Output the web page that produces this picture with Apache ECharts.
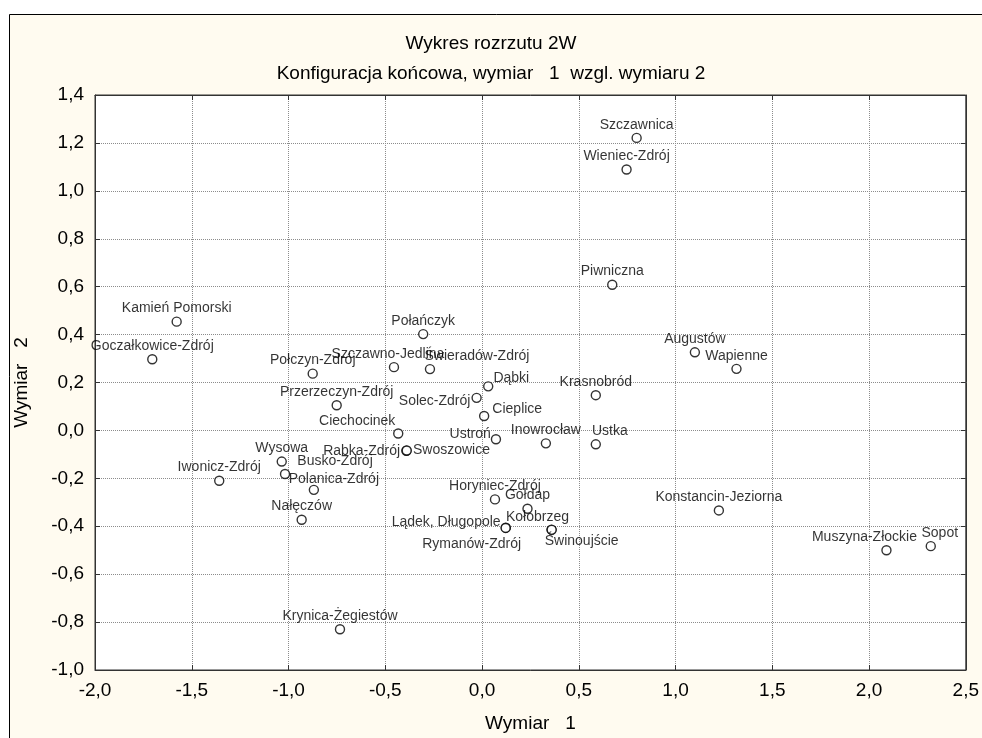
<!DOCTYPE html>
<html>
<head>
<meta charset="utf-8">
<title>Wykres rozrzutu 2W</title>
<script src="https://cdn.jsdelivr.net/npm/echarts@6/dist/echarts.min.js"></script>
<style>
  html, body { margin: 0; padding: 0; background: #fff; }
  #chart { width: 982px; height: 738px; }
</style>
</head>
<body>
<div id="chart"></div>
<script>
// uzdrowiska - konfiguracja koncowa MDS
var names = [
    'Szczawnica', 'Wieniec-Zdrój', 'Piwniczna', 'Kamień Pomorski', 'Goczałkowice-Zdrój',
    'Połczyn-Zdrój', 'Szczawno-Jedlina', 'Połańczyk', 'Świeradów-Zdrój', 'Przerzeczyn-Zdrój',
    'Ciechocinek', 'Dąbki', 'Solec-Zdrój', 'Cieplice', 'Ustroń',
    'Krasnobród', 'Inowrocław', 'Ustka', 'Rabka-Zdrój', 'Swoszowice',
    'Wysowa', 'Busko-Zdrój', 'Iwonicz-Zdrój', 'Polanica-Zdrój', 'Nałęczów',
    'Horyniec-Zdrój', 'Gołdap', 'Lądek, Długopole', 'Rymanów-Zdrój', 'Kołobrzeg',
    'Świnoujście', 'Augustów', 'Wapienne', 'Konstancin-Jeziorna', 'Muszyna-Złockie',
    'Sopot', 'Krynica-Żegiestów'
];
var wymiar1 = [
    0.799, 0.747, 0.673, -1.578, -1.704,
    -0.875, -0.455, -0.304, -0.269, -0.751,
    -0.433, 0.032, -0.028, 0.011, 0.072,
    0.588, 0.330, 0.588, -0.391, -0.389,
    -1.035, -1.018, -1.358, -0.869, -0.932,
    0.067, 0.235, 0.123, 0.122, 0.359,
    0.360, 1.100, 1.315, 1.224, 2.090,
    2.319, -0.734
];
var wymiar2 = [
    1.221, 1.089, 0.608, 0.454, 0.297,
    0.237, 0.264, 0.402, 0.256, 0.105,
    -0.013, 0.184, 0.136, 0.060, -0.037,
    0.147, -0.054, -0.058, -0.085, -0.084,
    -0.130, -0.182, -0.210, -0.248, -0.373,
    -0.288, -0.327, -0.406, -0.407, -0.414,
    -0.415, 0.326, 0.257, -0.334, -0.500,
    -0.483, -0.830
];

// gdzie stoi etykieta (domyslnie nad punktem)
var labelPlace = {
    'Szczawno-Jedlina': ['top', [-6, 0]],
    'Ciechocinek': ['top', [-41, 1]],
    'Świeradów-Zdrój': ['top', [47, 0]],
    'Dąbki': ['right', [-1, -8]],
    'Solec-Zdrój': ['left', [0, 3]],
    'Cieplice': ['right', [2, -7]],
    'Ustroń': ['left', [1, -5]],
    'Ustka': ['top', [14, 0]],
    'Rabka-Zdrój': ['left', [0, 0]],
    'Swoszowice': ['right', [0, 0]],
    'Busko-Zdrój': ['top', [50, 0]],
    'Polanica-Zdrój': ['top', [20, 3]],
    'Lądek, Długopole': ['left', [1, -6]],
    'Rymanów-Zdrój': ['bottom', [-34, 3]],
    'Kołobrzeg': ['top', [-14, 1]],
    'Świnoujście': ['bottom', [30, -2]],
    'Muszyna-Złockie': ['top', [-22, 0]],
    'Sopot': ['top', [9, 0]]
};

var points = [];
for (var i = 0; i < names.length; i++) {
    var p = labelPlace[names[i]] || ['top', [0, 0]];
    points.push({
        name: names[i],
        value: [wymiar1[i], wymiar2[i]],
        label: { position: p[0], offset: p[1] }
    });
}

var cream = '#fffbf0';
var tickFont = 'Liberation Sans';
var fmt = function(v) {
    return v.toFixed(1).replace('.', ',');
};
var frameLine = { onZero: false, lineStyle: { color: '#333' } };
var innerTick = { inside: true, length: 5, lineStyle: { color: '#333' } };

var myChart = echarts.init(document.getElementById('chart'));

var option = {
    backgroundColor: '#ffffff',
    animation: false,
    graphic: [{
        type: 'rect',
        z: -100,
        shape: { x: 9.5, y: 14.5, width: 1000, height: 800 },
        style: { fill: cream, stroke: '#000', lineWidth: 1 }
    }],
    title: [{
        text: 'Wykres rozrzutu 2W',
        left: 'center',
        top: 29,
        textStyle: { fontFamily: tickFont, fontSize: 19, fontWeight: 'normal', color: '#000' }
    }, {
        text: 'Konfiguracja końcowa, wymiar   1  wzgl. wymiaru 2',
        left: 'center',
        top: 59,
        textStyle: { fontFamily: tickFont, fontSize: 19, fontWeight: 'normal', color: '#000' }
    }],
    grid: {
        left: 95,
        right: 16,
        top: 95,
        bottom: 64,
        show: true,
        backgroundColor: '#ffffff',
        borderColor: '#333',
        borderWidth: 1
    },
    xAxis: [{
        type: 'value',
        min: -2,
        max: 2.5,
        interval: 0.5,
        name: 'Wymiar   1',
        nameLocation: 'middle',
        nameGap: 44,
        nameTextStyle: { fontFamily: tickFont, fontSize: 19, color: '#000' },
        axisLine: frameLine,
        axisTick: innerTick,
        axisLabel: { formatter: fmt, fontFamily: tickFont, fontSize: 19, color: '#000', margin: 11 },
        splitLine: { show: true, lineStyle: { type: 'dotted', color: '#8c8c8c' } }
    }, {
        type: 'value',
        position: 'top',
        min: -2,
        max: 2.5,
        interval: 0.5,
        axisLine: frameLine,
        axisTick: innerTick,
        axisLabel: { show: false },
        splitLine: { show: false }
    }],
    yAxis: [{
        type: 'value',
        min: -1,
        max: 1.4,
        interval: 0.2,
        name: 'Wymiar   2',
        nameLocation: 'middle',
        nameGap: 64,
        nameTextStyle: { fontFamily: tickFont, fontSize: 19, color: '#000' },
        axisLine: frameLine,
        axisTick: innerTick,
        axisLabel: { formatter: fmt, fontFamily: tickFont, fontSize: 19, color: '#000', margin: 11 },
        splitLine: { show: true, lineStyle: { type: 'dotted', color: '#8c8c8c' } }
    }, {
        type: 'value',
        position: 'right',
        min: -1,
        max: 1.4,
        interval: 0.2,
        axisLine: frameLine,
        axisTick: innerTick,
        axisLabel: { show: false },
        splitLine: { show: false }
    }],
    series: [{
        name: 'Konfiguracja',
        type: 'scatter',
        xAxisIndex: 0,
        yAxisIndex: 0,
        symbol: 'circle',
        symbolSize: 9,
        itemStyle: { color: '#ffffff', borderColor: '#000', borderWidth: 1.4 },
        label: {
            show: true,
            formatter: '{b}',
            distance: 1,
            fontFamily: 'Liberation Sans',
            fontSize: 14,
            color: '#000'
        },
        emphasis: { disabled: true },
        data: points
    }]
};

myChart.setOption(option);
</script>
</body>
</html>
